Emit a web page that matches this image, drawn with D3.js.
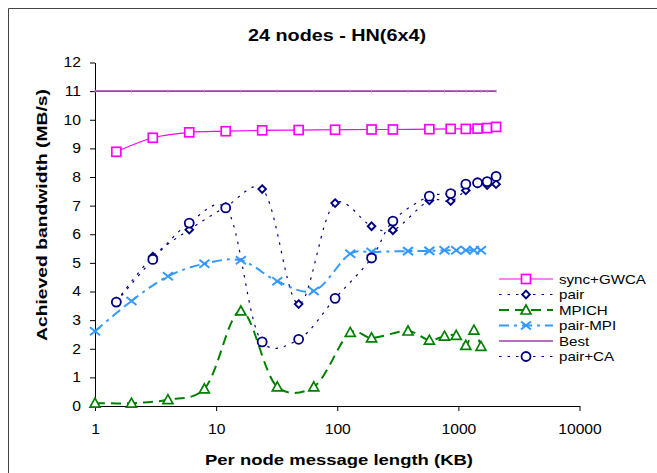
<!DOCTYPE html>
<html>
<head>
<meta charset="utf-8">
<script src="https://cdn.jsdelivr.net/npm/d3@7"></script>
<style>
  html, body { margin: 0; padding: 0; background: #fff; }
  svg { display: block; font-family: Arial, "Liberation Sans", sans-serif; }
</style>
</head>
<body>
<svg id="chart" width="657" height="473"></svg>
<script>
// Message lengths (KB) per series
const xPair = [1.5, 3, 6, 12, 24, 48, 96, 192, 288, 576, 864, 1152, 1440, 1728, 2048];
const xMpi  = [1, 2, 4, 8, 16, 32, 64, 128, 192, 384, 576, 768, 960, 1152, 1344, 1536];
const xBest = [1, 2, 4, 8, 16, 32, 64, 128, 192, 384, 576, 768, 960, 1152, 1344, 1536, 1728, 2048];

// Achieved bandwidth (MB/s)
const syncGWCA = [8.88, 9.37, 9.56, 9.60, 9.63, 9.64, 9.65, 9.66, 9.66, 9.67, 9.68, 9.68, 9.69, 9.71, 9.75];
const pair     = [3.65, 5.22, 6.16, 6.95, 7.58, 3.56, 7.09, 6.28, 6.14, 7.18, 7.16, 7.53, 7.78, 7.72, 7.75];
const pairCA   = [3.63, 5.12, 6.39, 6.92, 2.24, 2.33, 3.76, 5.17, 6.46, 7.33, 7.42, 7.75, 7.80, 7.84, 8.02];
const mpich    = [0.10, 0.10, 0.22, 0.60, 3.32, 0.67, 0.67, 2.57, 2.38, 2.62, 2.30, 2.44, 2.47, 2.12, 2.65, 2.08];
const pairMPI  = [2.61, 3.67, 4.53, 4.97, 5.09, 4.36, 4.02, 5.32, 5.38, 5.41, 5.42, 5.44, 5.44, 5.44, 5.44, 5.44];
const best     = xBest.map(() => 11);

const xTicks = [1, 10, 100, 1000, 10000];
const yTicks = [0, 1, 2, 3, 4, 5, 6, 7, 8, 9, 10, 11, 12];

const title = "24 nodes - HN(6x4)";
const xTitle = "Per node message length (KB)";
const yTitle = "Achieved bandwidth (MB/s)";

const svg = d3.select("#chart");
const X0 = 95, X1 = 579.5, Y0 = 406, Y1 = 62.5;

const x = d3.scaleLog().domain([1, 10000]).range([X0, X1]);
const y = d3.scaleLinear().domain([0, 12]).range([Y0, Y1]);

// outer chart frame
svg.append("path")
  .attr("d", "M8.5,480 V8.5 H670")
  .attr("fill", "none").attr("stroke", "#444").attr("stroke-width", 1);

// title
svg.append("text")
  .attr("x", 337).attr("y", 41)
  .attr("text-anchor", "middle")
  .attr("font-size", 16).attr("font-weight", "bold")
  .attr("textLength", 178).attr("lengthAdjust", "spacingAndGlyphs")
  .text(title);

// axes
const xAxis = d3.axisBottom(x).tickValues(xTicks).tickFormat(d3.format("d")).tickSize(5).tickSizeOuter(0);
const gx = svg.append("g").attr("transform", `translate(0,${Y0})`).call(xAxis);
gx.select(".domain").attr("stroke", "#000");
gx.selectAll("line").attr("stroke", "#000");
gx.selectAll("text").attr("class", "stretch").attr("font-size", 14).attr("fill", "#000").attr("dy", "1.43em")
  .attr("font-family", "Arial, 'Liberation Sans', sans-serif");

const yAxis = d3.axisLeft(y).tickValues(yTicks).tickSize(5).tickSizeOuter(0);
const gy = svg.append("g").attr("transform", `translate(${X0},0)`).call(yAxis);
gy.select(".domain").attr("stroke", "#000");
gy.selectAll("line").attr("stroke", "#000");
gy.selectAll("text").attr("class", "stretch").attr("font-size", 14).attr("fill", "#000").attr("x", -14)
  .attr("font-family", "Arial, 'Liberation Sans', sans-serif");

// axis titles
svg.append("text")
  .attr("x", 339).attr("y", 465)
  .attr("text-anchor", "middle").attr("font-size", 15).attr("font-weight", "bold")
  .attr("textLength", 268).attr("lengthAdjust", "spacingAndGlyphs")
  .text(xTitle);
svg.append("text")
  .attr("transform", "translate(47,215) rotate(-90)")
  .attr("text-anchor", "middle").attr("font-size", 15).attr("font-weight", "bold")
  .attr("textLength", 252).attr("lengthAdjust", "spacingAndGlyphs")
  .text(yTitle);

// marker shapes
function drawMarker(g, kind, color) {
  if (kind === "square") {
    g.append("rect").attr("x", -4.5).attr("y", -4.5).attr("width", 9).attr("height", 9)
      .attr("fill", "#fff").attr("stroke", color).attr("stroke-width", 1.7);
  } else if (kind === "diamond") {
    g.append("path").attr("d", "M0,-3.8 L3.8,0 L0,3.8 L-3.8,0 Z")
      .attr("fill", "#fff").attr("stroke", color).attr("stroke-width", 1.9);
  } else if (kind === "circle") {
    g.append("circle").attr("r", 4.5)
      .attr("fill", "#fff").attr("stroke", color).attr("stroke-width", 1.8);
  } else if (kind === "triangle") {
    g.append("path").attr("d", "M0,-5 L5,4 L-5,4 Z")
      .attr("fill", "#fff").attr("stroke", color).attr("stroke-width", 1.7);
  } else if (kind === "cross") {
    g.append("path").attr("d", "M-5,-4 L5,4 M-5,4 L5,-4")
      .attr("fill", "none").attr("stroke", color).attr("stroke-width", 2);
  } else if (kind === "tick") {
    g.append("path").attr("d", "M0,-1.5 V1.5")
      .attr("fill", "none").attr("stroke", color).attr("stroke-width", 1);
  }
}

const series = [
  { name: "sync+GWCA", xs: xPair, ys: syncGWCA, color: "#ff00ff", width: 1.2, dash: null, marker: "square" },
  { name: "pair", xs: xPair, ys: pair, color: "#000080", width: 1.2, dash: "2.5,6", marker: "diamond" },
  { name: "MPICH", xs: xMpi, ys: mpich, color: "#008000", width: 2, dash: "10,6", marker: "triangle" },
  { name: "pair-MPI", xs: xMpi, ys: pairMPI, color: "#3399ff", width: 2, dash: "10,5,3,5", marker: "cross" },
  { name: "Best", xs: xBest, ys: best, color: "#a040a8", width: 1.6, dash: null, marker: "tick" },
  { name: "pair+CA", xs: xPair, ys: pairCA, color: "#000080", width: 1.2, dash: "2.5,6", marker: "circle" }
];

const line = d3.line().x(d => x(d[0])).y(d => y(d[1]));

// lines first, markers on top
const drawOrder = ["Best", "MPICH", "pair-MPI", "pair", "pair+CA", "sync+GWCA"];
drawOrder.forEach(n => {
  const s = series.find(t => t.name === n);
  const pts = s.xs.map((v, i) => [v, s.ys[i]]);
  const curve = s.name === "Best" ? d3.curveLinear : d3.curveCatmullRom.alpha(0.25);
  svg.append("path").datum(pts)
    .attr("d", line.curve(curve))
    .attr("fill", "none").attr("stroke", s.color).attr("stroke-width", s.width)
    .attr("stroke-dasharray", s.dash);
});
drawOrder.forEach(n => {
  const s = series.find(t => t.name === n);
  const pts = s.xs.map((v, i) => [v, s.ys[i]]);
  svg.append("g").selectAll("g").data(pts).join("g")
    .attr("transform", d => `translate(${x(d[0])},${y(d[1])})`)
    .each(function () { drawMarker(d3.select(this), s.marker, s.marker === "tick" ? "#c080c8" : s.color); });
});

// legend
const legend = svg.append("g").attr("transform", "translate(499,279)");
series.forEach((s, i) => {
  const row = legend.append("g").attr("transform", `translate(0,${i * 15.5})`);
  row.append("line").attr("x1", 0).attr("x2", 54).attr("y1", 0).attr("y2", 0)
    .attr("stroke", s.color).attr("stroke-width", s.width).attr("stroke-dasharray", s.dash);
  if (s.marker !== "tick") {
    const m = row.append("g").attr("transform", "translate(27,0)");
    drawMarker(m, s.marker, s.color);
  }
  row.append("text").attr("class", "stretch")
    .attr("x", 60).attr("y", 0).attr("dy", "0.36em")
    .attr("font-size", 13.5).text(s.name);
});

// wider glyph set, as in the original spreadsheet rendering
svg.selectAll("text.stretch").each(function () {
  const w = this.getComputedTextLength();
  d3.select(this).attr("textLength", w * 1.12).attr("lengthAdjust", "spacingAndGlyphs");
});
</script>
</body>
</html>
